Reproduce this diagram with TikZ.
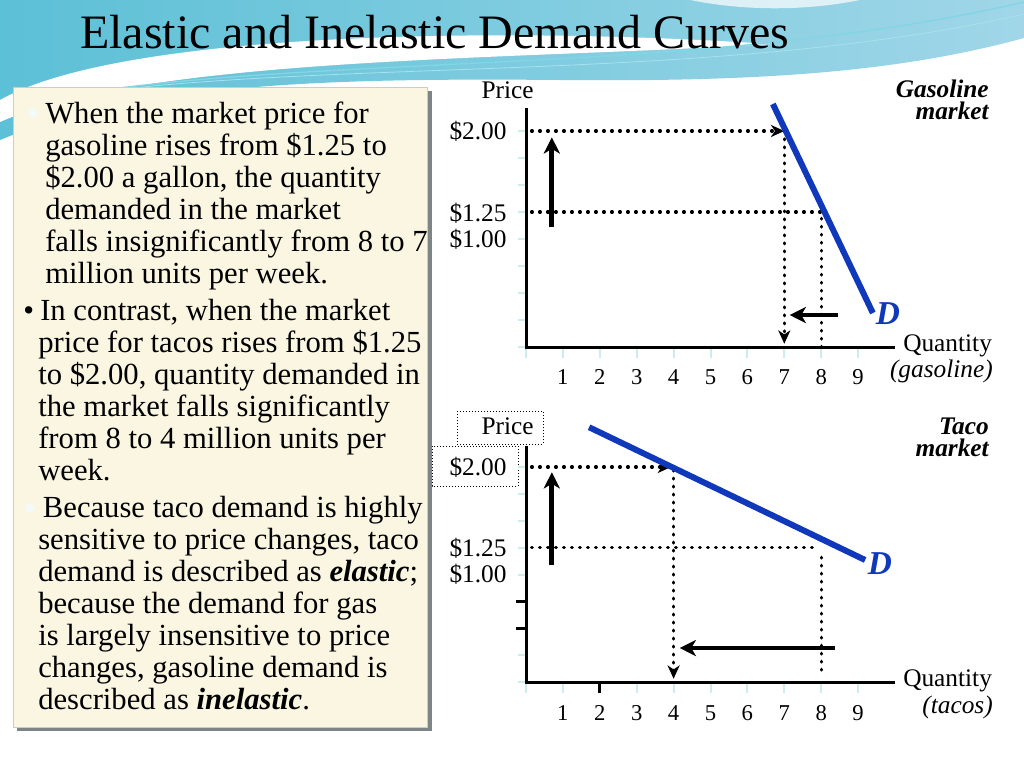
\documentclass[tikz,border=0pt]{standalone}
\usepackage{fontspec}
\setmainfont{Liberation Serif}
\usetikzlibrary{arrows.meta}
\definecolor{demandblue}{RGB}{16,56,186}
\definecolor{tickcyan}{RGB}{205,236,236}
\definecolor{panelfill}{RGB}{251,246,226}
\definecolor{panelshade}{RGB}{125,133,135}
\definecolor{swirldark}{RGB}{92,192,214}
\definecolor{swirllight}{RGB}{160,214,232}
\definecolor{swirlband}{RGB}{128,214,228}

\begin{document}
\begin{tikzpicture}[x=0.75pt,y=-0.75pt,
  axisline/.style={line width=2.25pt},
  faintick/.style={tickcyan,line width=1.5pt},
  blacktick/.style={line width=2.25pt},
  demand/.style={demandblue,line width=4.5pt},
  dotline/.style={line width=2.4pt,line cap=round,dash pattern=on 0.6pt off 5.4pt},
  dotarrow/.style={dotline,-{Stealth[length=10pt,width=9pt,inset=3pt]}},
  bigarrow/.style={line width=3.6pt,-{Stealth[length=12pt,width=12pt,inset=3.5pt]}},
  arrowshade/.style={bigarrow,gray!60,xshift=2pt,yshift=-2pt},
  lbl/.style={font=\fontsize{19}{21}\selectfont,inner sep=0pt},
  numlbl/.style={font=\fontsize{17}{19}\selectfont,inner sep=0pt,anchor=base},
  mkt/.style={font=\fontsize{19}{16.5}\selectfont\bfseries\itshape,align=right,inner sep=0pt,anchor=north east},
  dlbl/.style={font=\fontsize{25}{25}\selectfont\bfseries\itshape,text=demandblue,inner sep=0pt},
  body/.style={font=\fontsize{23}{24}\selectfont,align=left,inner sep=0pt,anchor=base west},
  fbullet/.style={circle,fill=white!75!tickcyan,inner sep=0pt,minimum size=7pt},
  boxdot/.style={line width=0.75pt,dash pattern=on 0.75pt off 1.5pt}]

  % slide background
  \fill[white] (0,0) rectangle (1024,768);
  \useasboundingbox (0,0) rectangle (1024,768);
  \shade[left color=swirldark,right color=swirllight]
    (0,0) -- (1024,0) -- (1024,38) .. controls (900,72) and (760,82) .. (560,80)
    .. controls (340,78) and (140,82) .. (0,140) -- cycle;
  \fill[white] (0,100) .. controls (120,32) and (500,26) .. (770,44)
    .. controls (520,60) and (150,56) .. (0,122) -- cycle;
  \fill[white,opacity=.7] (690,0) .. controls (740,10) and (800,12) .. (860,0) -- cycle;
  \draw[swirlband,line width=1pt] (40,100) .. controls (300,52) and (700,78) .. (1024,2);
  \draw[swirlband!70!white,line width=.6pt] (70,96) .. controls (320,58) and (720,84) .. (1024,14);

  % title
  \node[font=\fontsize{36}{40}\selectfont,inner sep=0pt,anchor=base west] (title) at (80,48)
    {Elastic and Inelastic Demand Curves};

  % text panel
  \fill[panelshade] (17,91) rectangle (432,731);
  \draw[gray!40,fill=panelfill] (13,87) rectangle (427,727);
  \node[fbullet] (d1) at (33,113) {};
  \node[body] (b1) at (45,283) {When the market price for\\gasoline rises from \$1.25 to\\\$2.00 a gallon, the quantity\\demanded in the market\\falls insignificantly from 8 to 7\\million units per week.};
  \node[body] (d2) at (23,320) {\textbullet};
  \node[body] (b2) at (38,480) {\hspace{1.5pt}In contrast, when the market\\price for tacos rises from \$1.25\\to \$2.00, quantity demanded in\\the market falls significantly\\from 8 to 4 million units per\\week.};
  \node[fbullet] (d3) at (30,508) {};
  \node[body] (b3) at (38,709) {\hspace{3.5pt}Because taco demand is highly\\sensitive to price changes, taco\\demand is described as \textbf{\textit{elastic}};\\because the demand for gas\\is largely insensitive to price\\changes, gasoline demand is\\described as \textbf{\textit{inelastic}}.};

  % gasoline market
  \begin{scope}[shift={(526,347)},x=27.675pt,y=81pt]
    \coordinate (gTop) at (0,2.21);
    \coordinate (gO) at (0,0);
    \coordinate (gEnd) at (10.0,0);
    \foreach \k in {0,...,8} \draw[faintick] (-0.23,\k/4) -- (0,\k/4);
    \foreach \q in {0,...,9} \draw[faintick] (\q,0) -- (\q,-0.1);
    \draw[axisline] (gTop) -- (gO) -- (gEnd);
    \foreach \q in {1,...,9} \node[numlbl] (gn\q) at (\q,-0.35) {\q};
    \node[lbl] (gprice) at (-0.5,2.38) {Price};
    \node[lbl,anchor=east] (gp200) at (-0.52,2) {\$2.00};
    \node[lbl,anchor=east] (gp125) at (-0.52,1.24) {\$1.25};
    \node[lbl,anchor=east] (gp100) at (-0.52,1.0) {\$1.00};
    % dotted guides
    \coordinate (gP2) at (0.15,2);
    \coordinate (gA) at (7,2);
    \coordinate (gQ7) at (7,0.03);
    \coordinate (gP125) at (0.15,1.25);
    \coordinate (gB) at (8,1.25);
    \coordinate (gQ8) at (8,0);
    \draw[dotarrow] (gP2) -- (gA);
    \draw[dotarrow] (gA) -- (gQ7);
    \draw[dotline] (gP125) -- (gB) -- (gQ8);
    % demand curve
    \coordinate (gD1) at (6.69,2.25);
    \coordinate (gD2) at (9.40,0.315);
    \draw[demand] (gD1) -- (gD2);
    \node[dlbl] (gD) at (9.81,0.305) {D};
    % shift arrows
    \coordinate (gU1) at (0.70,1.11);
    \coordinate (gU2) at (0.70,1.94);
    \coordinate (gL1) at (8.46,0.296);
    \coordinate (gL2) at (7.15,0.296);
    \draw[arrowshade] (gU1) -- (gU2);
    \draw[bigarrow] (gU1) -- (gU2);
    \draw[arrowshade] (gL1) -- (gL2);
    \draw[bigarrow] (gL1) -- (gL2);
  \end{scope}
  \node[mkt] (gmkt) at (989,80) {Gasoline\\market};
  \node[lbl,anchor=west] (gqty) at (903,346) {Quantity};
  \node[lbl,anchor=east] (ggood) at (993,371) {\textit{(gasoline)}};

  % taco market
  \draw[boxdot] (457,411) rectangle (543,444);
  \draw[boxdot] (432,446) rectangle (518,486);
  \begin{scope}[shift={(526,682)},x=27.675pt,y=80.625pt]
    \coordinate (tTop) at (0,2.2);
    \coordinate (tO) at (0,0);
    \coordinate (tEnd) at (10.0,0);
    \foreach \k in {0,...,8} \draw[faintick] (-0.23,\k/4) -- (0,\k/4);
    \foreach \q in {0,...,9} \draw[faintick] (\q,0) -- (\q,-0.1);
    \draw[blacktick] (-0.27,0.5) -- (0,0.5);
    \draw[blacktick] (-0.27,0.75) -- (0,0.75);
    \draw[blacktick] (2,0) -- (2,-0.1);
    \draw[axisline] (tTop) -- (tO) -- (tEnd);
    \foreach \q in {1,...,9} \node[numlbl] (tn\q) at (\q,-0.36) {\q};
    \node[lbl] (tprice) at (-0.5,2.38) {Price};
    \node[lbl,anchor=east] (tp200) at (-0.52,2) {\$2.00};
    \node[lbl,anchor=east] (tp125) at (-0.52,1.24) {\$1.25};
    \node[lbl,anchor=east] (tp100) at (-0.52,1.0) {\$1.00};
    % dotted guides
    \coordinate (tP2) at (0.15,2);
    \coordinate (tA) at (3.93,2);
    \coordinate (tA2) at (4,1.97);
    \coordinate (tQ4) at (4,0.03);
    \coordinate (tP125) at (0.15,1.25);
    \coordinate (tB) at (7.9,1.25);
    \coordinate (tB2) at (8,1.16);
    \coordinate (tQ8) at (8,0.09);
    \draw[dotarrow] (tP2) -- (tA);
    \draw[dotarrow] (tA2) -- (tQ4);
    \draw[dotline] (tP125) -- (tB);
    \draw[dotline] (tB2) -- (tQ8);
    % demand curve
    \coordinate (tD1) at (1.71,2.37);
    \coordinate (tD2) at (9.19,1.135);
    \draw[demand] (tD1) -- (tD2);
    \node[dlbl] (tD) at (9.59,1.10) {D};
    % shift arrows
    \coordinate (tU1) at (0.70,1.09);
    \coordinate (tU2) at (0.70,1.95);
    \coordinate (tL1) at (8.37,0.316);
    \coordinate (tL2) at (4.17,0.316);
    \draw[arrowshade] (tU1) -- (tU2);
    \draw[bigarrow] (tU1) -- (tU2);
    \draw[arrowshade] (tL1) -- (tL2);
    \draw[bigarrow] (tL1) -- (tL2);
  \end{scope}
  \node[mkt] (tmkt) at (989,418) {Taco\\market};
  \node[lbl,anchor=west] (tqty) at (903,681) {Quantity};
  \node[lbl,anchor=east] (tgood) at (993,707) {\textit{(tacos)}};
\end{tikzpicture}
\end{document}
